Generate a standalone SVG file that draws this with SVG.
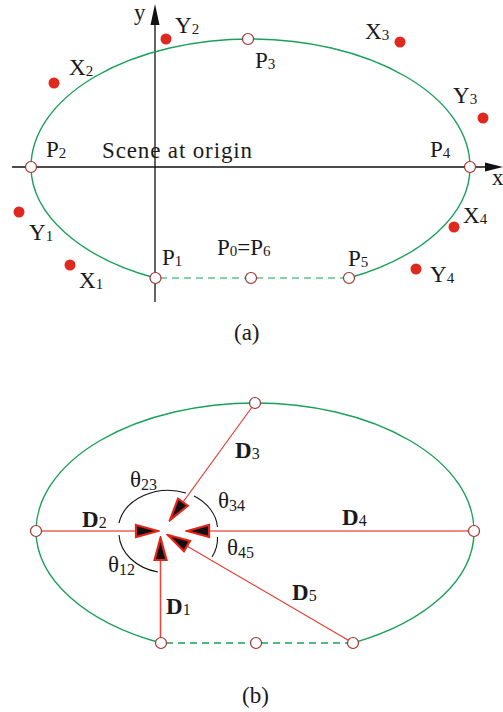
<svg xmlns="http://www.w3.org/2000/svg" width="503" height="712" viewBox="0 0 503 712">
<style>
text{font-family:"Liberation Serif","Times New Roman",serif;font-size:23px;fill:#1a1a1a}
.s{font-size:15px}
.s2{font-size:16px}
.b{font-weight:bold;font-size:23px}
.ell{fill:none;stroke:#1aa05a;stroke-width:1.4}
.dashA{fill:none;stroke:#5cc48e;stroke-width:1.6;stroke-dasharray:7 5}
.dashB{fill:none;stroke:#1aa05a;stroke-width:1.4;stroke-dasharray:7 5}
.pt{fill:#fff;stroke:#a0302c;stroke-width:1.2}
.dot{fill:#e0291e}
.ax{stroke:#111;stroke-width:1.3;fill:none}
.arc{stroke:#111;stroke-width:1.1;fill:none}
.dl{stroke:#f08a80;stroke-width:2.2;fill:none}
.dr{stroke:#e8473c;stroke-width:1.6;fill:none}
.dt{stroke:#e5372c;stroke-width:1.1;fill:none}
</style>
<defs>
<marker id="ah" viewBox="0 0 26 16" refX="24" refY="8" markerWidth="26" markerHeight="16" markerUnits="userSpaceOnUse" orient="auto">
<path d="M2,2 L24,8 L2,14 Z" fill="#111" stroke="#e3241b" stroke-width="2.2"/>
</marker>
</defs>

<!-- (a) -->
<g id="axes">
<line class="ax" x1="12" y1="167" x2="487" y2="167"/>
<polygon points="485,162.5 503,167 485,171.5" fill="#111"/>
<line class="ax" x1="155" y1="302" x2="155" y2="24"/>
<polygon points="150.5,25 155,4 159.5,25" fill="#111"/>
<text x="134" y="20">y</text>
<text x="492" y="185">x</text>
</g>
<g id="connectors-a">
<path class="ell" d="M31,167 A219.5,128 0 0 1 470,167 A219.5,124 0 0 1 349,278"/>
<path class="ell" d="M155,278 A219.5,124 0 0 1 31,167"/>
<line class="dashA" x1="160" y1="278" x2="246" y2="278"/>
<line class="dashA" x1="256" y1="278" x2="344" y2="278"/>
</g>
<g id="P1a"><circle class="pt" cx="155.5" cy="278" r="5.5"/><text x="162" y="265">P<tspan class="s" dy="1">1</tspan></text></g>
<g id="P2a"><circle class="pt" cx="31" cy="167" r="5.5"/><text x="46" y="157">P<tspan class="s" dy="1">2</tspan></text></g>
<g id="P3a"><circle class="pt" cx="248" cy="39" r="5.5"/><text x="255" y="68">P<tspan class="s" dy="1">3</tspan></text></g>
<g id="P4a"><circle class="pt" cx="470" cy="167" r="5.5"/><text x="430" y="157">P<tspan class="s" dy="1">4</tspan></text></g>
<g id="P5a"><circle class="pt" cx="349" cy="278" r="5.5"/><text x="348" y="266">P<tspan class="s" dy="1">5</tspan></text></g>
<g id="P0a"><circle class="pt" cx="251" cy="278" r="5.5"/><text x="217" y="255">P<tspan class="s" dy="1">0</tspan><tspan dy="-1">=P</tspan><tspan class="s" dy="1">6</tspan></text></g>
<g id="scene"><text x="102" y="158" textLength="150">Scene at origin</text></g>
<g id="X1"><circle class="dot" cx="70" cy="265" r="5.5"/><text x="79" y="288">X<tspan class="s" dy="1">1</tspan></text></g>
<g id="Y1"><circle class="dot" cx="19" cy="212" r="5.5"/><text x="29" y="240">Y<tspan class="s" dy="1">1</tspan></text></g>
<g id="X2"><circle class="dot" cx="54" cy="83" r="5.5"/><text x="69" y="75">X<tspan class="s" dy="1">2</tspan></text></g>
<g id="Y2"><circle class="dot" cx="166" cy="39" r="5.5"/><text x="175" y="33">Y<tspan class="s" dy="1">2</tspan></text></g>
<g id="X3"><circle class="dot" cx="400" cy="42" r="5.5"/><text x="365" y="39">X<tspan class="s" dy="1">3</tspan></text></g>
<g id="Y3"><circle class="dot" cx="483" cy="118" r="5.5"/><text x="453" y="103">Y<tspan class="s" dy="1">3</tspan></text></g>
<g id="X4"><circle class="dot" cx="454" cy="227" r="5.5"/><text x="463" y="223">X<tspan class="s" dy="1">4</tspan></text></g>
<g id="Y4"><circle class="dot" cx="416" cy="269" r="5.5"/><text x="430" y="282">Y<tspan class="s" dy="1">4</tspan></text></g>
<text x="234" y="340">(a)</text>

<!-- (b) -->
<g id="connectors-b">
<path class="ell" d="M36,531 A219,128 0 0 1 474,531 A219,124.5 0 0 1 353,643"/>
<path class="ell" d="M161,643 A219,124.5 0 0 1 36,531"/>
<line class="dashB" x1="166" y1="643" x2="251" y2="643"/>
<line class="dashB" x1="261" y1="643" x2="348" y2="643"/>
<line class="dl" x1="41" y1="531" x2="158" y2="531" marker-end="url(#ah)"/>
<line class="dl" x1="469" y1="531" x2="187" y2="531" marker-end="url(#ah)"/>
<line class="dt" x1="255" y1="403" x2="170" y2="520" marker-end="url(#ah)"/>
<line class="dt" x1="353" y1="643" x2="168" y2="535" marker-end="url(#ah)"/>
<line class="dr" x1="160.5" y1="638" x2="160.5" y2="538" marker-end="url(#ah)"/>
<path class="arc" d="M119,523 A50,40 0 0 1 186,493"/>
<path class="arc" d="M194,496 A50,40 0 0 1 217.5,527"/>
<path class="arc" d="M217.5,537 A50,40 0 0 1 212,557"/>
<path class="arc" d="M119,535 A50,40 0 0 0 158,572"/>
</g>
<g id="P1b"><circle class="pt" cx="161" cy="643" r="5.5"/></g>
<g id="P2b"><circle class="pt" cx="36" cy="531" r="5.5"/></g>
<g id="P3b"><circle class="pt" cx="255" cy="403" r="5.5"/></g>
<g id="P4b"><circle class="pt" cx="474" cy="531" r="5.5"/></g>
<g id="P5b"><circle class="pt" cx="353" cy="643" r="5.5"/></g>
<g id="P0b"><circle class="pt" cx="256" cy="643" r="5.5"/></g>
<g id="labels-b">
<text x="130" y="487">θ<tspan class="s2" dy="3">23</tspan></text>
<text x="218" y="508">θ<tspan class="s2" dy="3">34</tspan></text>
<text x="227" y="555">θ<tspan class="s2" dy="3">45</tspan></text>
<text x="108" y="572">θ<tspan class="s2" dy="3">12</tspan></text>
<text x="82" y="527"><tspan class="b">D</tspan><tspan class="s2" dy="1">2</tspan></text>
<text x="235" y="458"><tspan class="b">D</tspan><tspan class="s2" dy="1">3</tspan></text>
<text x="342" y="525"><tspan class="b">D</tspan><tspan class="s2" dy="1">4</tspan></text>
<text x="166" y="614"><tspan class="b">D</tspan><tspan class="s2" dy="1">1</tspan></text>
<text x="292" y="600"><tspan class="b">D</tspan><tspan class="s2" dy="1">5</tspan></text>
</g>
<text x="242" y="703">(b)</text>
</svg>
